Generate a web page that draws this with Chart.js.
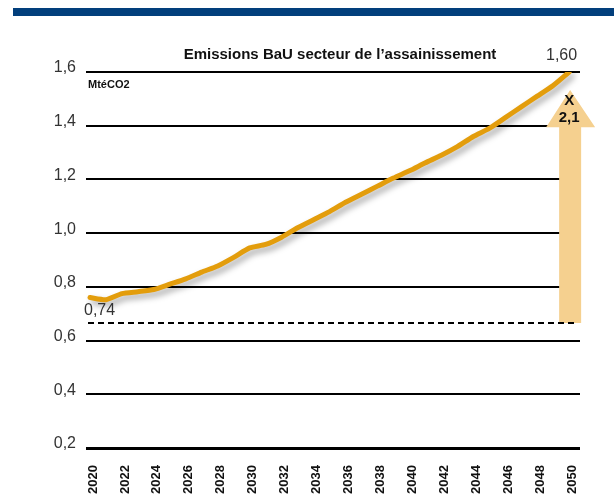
<!DOCTYPE html>
<html>
<head>
<meta charset="utf-8">
<script src="https://cdnjs.cloudflare.com/ajax/libs/Chart.js/4.4.1/chart.umd.min.js"></script>
<style>
  html, body { margin: 0; padding: 0; background: #fff; }
  #wrap { width: 614px; height: 497px; position: relative; }
</style>
</head>
<body>
<div id="wrap"><canvas id="chart" width="614" height="497"></canvas></div>
<script>
// data
var years = [2020, 2021, 2022, 2023, 2024, 2025, 2026, 2027, 2028, 2029, 2030,
             2031, 2032, 2033, 2034, 2035, 2036, 2037, 2038, 2039, 2040,
             2041, 2042, 2043, 2044, 2045, 2046, 2047, 2048, 2049, 2050];
var emissions = [0.76, 0.752, 0.775, 0.782, 0.79, 0.81, 0.83, 0.855, 0.878, 0.91, 0.945,
                 0.958, 0.985, 1.02, 1.05, 1.08, 1.115, 1.145, 1.175, 1.205, 1.232,
                 1.262, 1.29, 1.322, 1.36, 1.39, 1.43, 1.47, 1.51, 1.55, 1.60];
var yTicks = [0.2, 0.4, 0.6, 0.8, 1.0, 1.2, 1.4, 1.6];
var baseline = 0.665;       // dashed reference line
var startLabel = '0,74';
var endLabel = '1,60';
var factorLabel = ['X', '2,1'];
var chartTitle = 'Emissions BaU secteur de l\u2019assainissement';
var unitLabel = 'MtéCO2';

var LINE = '#e39d0c';
var ARROW = '#f5d08f';
var FONT = '"Liberation Sans", Arial, sans-serif';

var points = years.map(function(y, i) { return { x: y, y: emissions[i] }; });

// shadow under the line
var shadowPlugin = {
  id: 'shadow',
  beforeDatasetsDraw: function(chart) {
    var ctx = chart.ctx;
    ctx.save();
    ctx.shadowColor = 'rgba(0,0,0,0.35)';
    ctx.shadowBlur = 6;
    ctx.shadowOffsetX = 3;
    ctx.shadowOffsetY = 4;
  },
  afterDatasetsDraw: function(chart) {
    chart.ctx.restore();
  }
};

// dashed line + growth arrow, under the line
var arrowPlugin = {
  id: 'arrow',
  beforeDatasetsDraw: function(chart) {
    var ctx = chart.ctx, xs = chart.scales.x, ys = chart.scales.y;
    var yb = ys.getPixelForValue(baseline);
    ctx.save();
    var cx = xs.getPixelForValue(2050) + 1;
    var tip = ys.getPixelForValue(1.533);
    var base = ys.getPixelForValue(1.394);
    ctx.fillStyle = ARROW;
    ctx.beginPath();
    ctx.moveTo(cx - 11, yb);
    ctx.lineTo(cx - 11, base);
    ctx.lineTo(cx - 24, base);
    ctx.lineTo(cx, tip);
    ctx.lineTo(cx + 25, base);
    ctx.lineTo(cx + 11, base);
    ctx.lineTo(cx + 11, yb);
    ctx.closePath();
    ctx.fill();
    // dashed line
    ctx.strokeStyle = '#000';
    ctx.lineWidth = 2;
    ctx.setLineDash([6, 4]);
    ctx.beginPath();
    ctx.moveTo(chart.chartArea.left + 2, yb);
    ctx.lineTo(chart.chartArea.right - 2, yb);
    ctx.stroke();
    ctx.setLineDash([]);
    // arrow text
    ctx.fillStyle = '#111';
    ctx.font = 'bold 15px ' + FONT;
    ctx.textAlign = 'center';
    ctx.textBaseline = 'middle';
    ctx.fillText(factorLabel[0], cx - 1, 101);
    ctx.fillText(factorLabel[1], cx - 1, 118);
    ctx.restore();
  }
};

// header bar and texts
var textPlugin = {
  id: 'texts',
  afterDraw: function(chart) {
    var ctx = chart.ctx, xs = chart.scales.x;
    ctx.save();
    ctx.fillStyle = '#023f7c';
    ctx.fillRect(13, 8, 601, 8);

    ctx.fillStyle = '#111';
    ctx.textBaseline = 'middle';
    ctx.textAlign = 'center';
    ctx.font = 'bold 15px ' + FONT;
    ctx.fillText(chartTitle, 340, 55);

    ctx.textAlign = 'left';
    ctx.font = 'bold 11px ' + FONT;
    ctx.fillText(unitLabel, 88, 85);

    ctx.fillStyle = '#333';
    ctx.font = '16px ' + FONT;
    ctx.textAlign = 'right';
    ctx.fillText(endLabel, xs.getPixelForValue(2050) + 8, 56);
    ctx.textAlign = 'left';
    ctx.fillText(startLabel, 84, 311);
    ctx.restore();
  }
};

new Chart(document.getElementById('chart'), {
  type: 'line',
  data: {
    datasets: [{
      data: points,
      borderColor: LINE,
      borderWidth: 5,
      pointRadius: 0,
      tension: 0.2,
      borderCapStyle: 'round',
      borderJoinStyle: 'round',
      fill: false
    }]
  },
  options: {
    responsive: false,
    animation: false,
    layout: { padding: { top: 72, right: 34, bottom: 0, left: 0 } },
    plugins: { legend: { display: false }, tooltip: { enabled: false } },
    scales: {
      x: {
        type: 'linear',
        min: 2019.75,
        max: 2050.68,
        grid: { display: false },
        border: { display: false },
        afterFit: function(s) { s.height = 49; },
        ticks: {
          stepSize: 2,
          includeBounds: false,
          autoSkip: false,
          minRotation: 90,
          maxRotation: 90,
          padding: 9,
          labelOffset: 3,
          color: '#111',
          font: { family: FONT, size: 13, weight: 'bold' },
          callback: function(v) { return String(v); }
        }
      },
      y: {
        min: 0.2,
        max: 1.6,
        border: { display: false },
        afterFit: function(s) { s.width = 86; },
        afterBuildTicks: function(s) { s.ticks = yTicks.map(function(v) { return { value: v }; }); },
        grid: {
          color: '#000',
          drawTicks: false,
          lineWidth: function(c) { return c.tick && Math.abs(c.tick.value - 0.2) < 1e-6 ? 3 : 2; }
        },
        ticks: {
          padding: 10,
          labelOffset: -4,
          color: '#333',
          font: { family: FONT, size: 16 },
          callback: function(v) { return v.toFixed(1).replace('.', ','); }
        }
      }
    }
  },
  plugins: [arrowPlugin, shadowPlugin, textPlugin]
});
</script>
</body>
</html>
